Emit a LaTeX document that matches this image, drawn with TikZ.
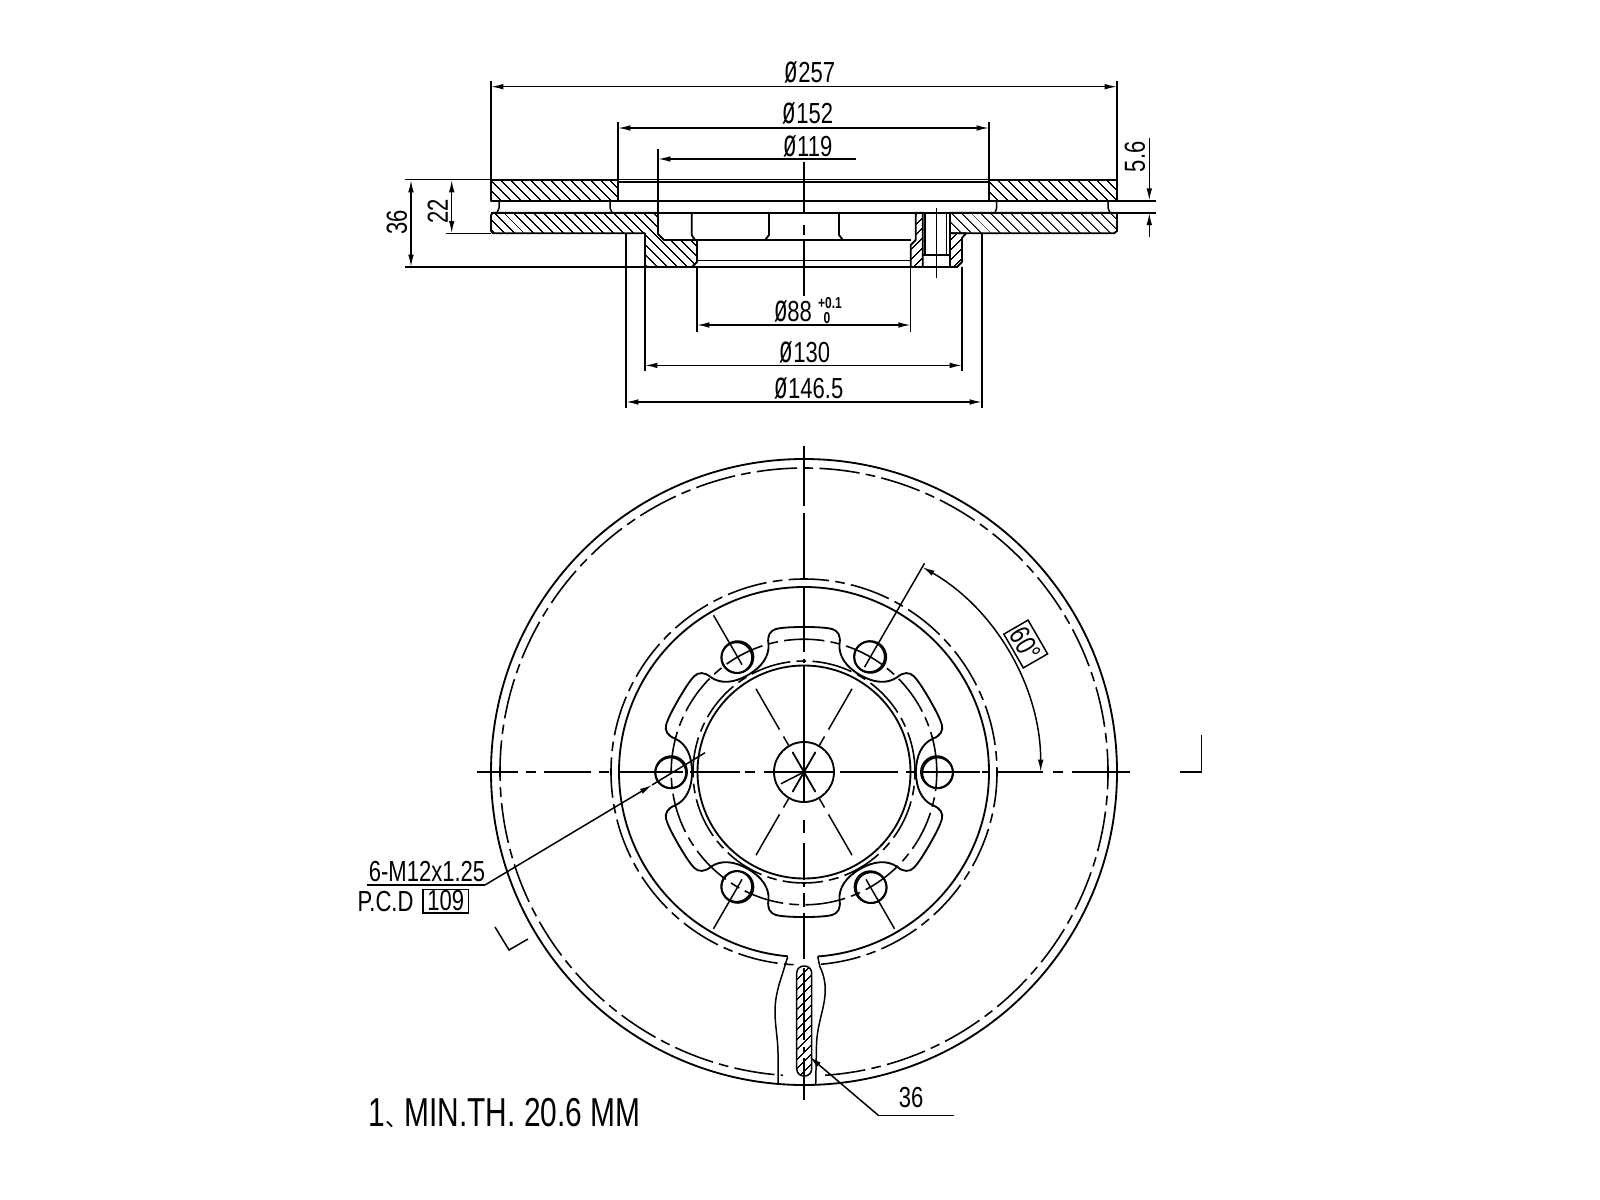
\documentclass[tikz,border=0pt]{standalone}
\usepackage{fontspec}
\setmainfont{Liberation Sans}[FakeStretch=0.76]
\newfontface\notefont{Liberation Sans}[FakeStretch=0.74]
\newfontfamily\cjkfont{Noto Sans CJK SC}
\usetikzlibrary{arrows.meta,patterns.meta,calc}
\newcommand\dia{\scalebox{1}[1.32]{ø}}
\tikzset{
  outline/.style={line width=1.05pt,line join=round},
  thinline/.style={line width=0.85pt},
  dimline/.style={line width=0.85pt,{Latex[length=7pt,width=3.2pt]}-{Latex[length=7pt,width=3.2pt]}},
  leader/.style={line width=0.85pt},
  phantomline/.style={line width=0.9pt,dash pattern=on 23pt off 3.6pt on 5.5pt off 3.6pt},
  hatchleft/.style={outline,pattern={Lines[angle=-45,distance=4pt,line width=0.65pt]}},
  hatchright/.style={outline,pattern={Lines[angle=45,distance=4pt,line width=0.65pt]}},
  dimtext/.style={font=\fontsize{16.5}{19}\selectfont,inner sep=0pt}
}
\begin{document}
\begin{tikzpicture}[x=0.02cm,y=-0.02cm]
        \useasboundingbox (0,0) rectangle (1600,1200);
        \pgfmathsetmacro\hubx{804}
        \pgfmathsetmacro\huby{772}
        \pgfmathsetmacro\rdisc{313}
        \pgfmathsetmacro\rpcd{132.8}
        % section view
        \draw[hatchleft] (491,180) rectangle (618,200.7);
        \draw[hatchleft] (989,180) rectangle (1117,200.7);
        \draw[hatchleft] (493,212.7) -- (658,212.7) -- (658,234) -- (664,240) -- (697,240) -- (697,262) -- (692,267) -- (645,267) -- (645,233.3) -- (493,233.3) -- (491,231) -- (491,215) -- cycle;
        \draw[hatchleft] (950,212.7) -- (1117,212.7) -- (1117,231) -- (1114,233.3) -- (950,233.3) -- cycle;
        \draw[hatchright] (950,233.3) -- (966,233.3) -- (962,238) -- (962,262) -- (957,267) -- (950,267) -- cycle;
        \draw[hatchright] (915.7,212.7) -- (922.7,212.7) -- (922.7,267) -- (910.7,267) -- (910.7,245) -- (915.7,240) -- cycle;
        \draw[outline] (405,179.5) -- (1117,179.5);
        \draw[outline] (618,182.3) -- (989,182.3);
        \draw[outline] (491,200.7) -- (1156,200.7);
        \draw[outline] (491,212.7) -- (1156,212.7);
        \draw[thinline] (446,233.3) -- (491,233.3);
        \draw[line width=1.3pt] (405,267) -- (958,267);
        \draw[outline] (697,240) -- (910.7,240);
        \draw[thinline] (697,260.7) -- (911,260.7);
        \draw[outline] (691.7,212.7) -- (691.7,235) -- (695,240);
        \draw[outline] (769,212.7) -- (769,235) -- (765,240);
        \draw[outline] (839,212.7) -- (839,235) -- (843,240);
        \draw[thinline] (925,212.7) -- (925,255);
        \draw[thinline] (946.7,212.7) -- (946.7,255);
        \draw[thinline] (922.7,255) -- (950,255);
        \draw[thinline] (936.7,208) -- (936.7,278);
        \foreach \ventx/\venty in {499/497,610/612,996.7/995,1108/1110}
            \draw[thinline] (\ventx,200.7) -- (\ventx,208) -- (\venty,212.7);
        % centre line of the section
        \foreach \p/\q in {161.7/213,225/235,240/296}
            \draw[thinline] (\hubx,\p) -- (\hubx,\q);
        % extension lines
        \draw[thinline] (491,80.6) -- (491,180);
        \draw[thinline] (1117,80.6) -- (1117,180);
        \draw[thinline] (618,122) -- (618,180);
        \draw[thinline] (989,122) -- (989,180);
        \draw[thinline] (658,149) -- (658,212.7);
        \draw[thinline] (697,267) -- (697,331.7);
        \draw[thinline] (910.7,267) -- (910.7,331.7);
        \draw[thinline] (645,267) -- (645,371);
        \draw[thinline] (962,267) -- (962,371);
        \draw[thinline] (626,233.3) -- (626,408);
        \draw[thinline] (982,233.3) -- (982,408);
        % dimensions
        \draw[dimline] (491,86.7) -- (1117,86.7);
        \draw[dimline] (618,128) -- (989,128);
        \draw[line width=0.85pt,{Latex[length=7pt,width=3.2pt]}-] (658,159) -- (856,159);
        \draw[dimline] (697,325) -- (910.7,325);
        \draw[dimline] (645,365.4) -- (962,365.4);
        \draw[dimline] (626,402) -- (982,402);
        \draw[dimline] (411,180) -- (411,267);
        \draw[dimline] (451.7,180) -- (451.7,233.3);
        \draw[line width=0.85pt,-{Latex[length=7pt,width=3.2pt]}] (1149.3,138) -- (1149.3,200.7);
        \draw[line width=0.85pt,-{Latex[length=7pt,width=3.2pt]}] (1149.3,236.7) -- (1149.3,212.7);
        \node[dimtext] (d257) at (810,72.7) {\dia257};
        \node[dimtext] (d152) at (808,113) {\dia152};
        \node[dimtext] (d119) at (808,146) {\dia119};
        \node[dimtext] (d88) at (793,311) {\dia88};
        \node[dimtext,font=\fontsize{9}{10}\bfseries\selectfont] (tolup) at (830,303) {+0.1};
        \node[dimtext,font=\fontsize{9}{10}\bfseries\selectfont] (tollow) at (827,318) {0};
        \node[dimtext] (d130) at (805,352) {\dia130};
        \node[dimtext] (d146) at (809,388) {\dia146.5};
        \node[dimtext,rotate=90] (d36) at (397,222) {36};
        \node[dimtext,rotate=90] (d22) at (437.7,211) {22};
        \node[dimtext,rotate=90] (d56) at (1135,156.7) {5.6};
        % front view
        \begin{scope}[shift={(\hubx,\huby)},y=0.02cm]
            \draw[outline] (0,0) circle (\rdisc);
            \draw[phantomline] (-86:304) arc (-86:266:304);
            \draw[outline] (-85.8:185) arc (-85.8:265:185);
            \draw[phantomline] (-85:193) arc (-85:267:193);
            \draw[outline] (0,0) circle (106.5);
            \draw[phantomline] (0,0) circle (111);
            \draw[phantomline] (0,0) circle (\rpcd);
            \draw[outline] (0,0) circle (30);
            % flange outline, one half lobe at a time
            \foreach \a in {0,60,...,300}
                \foreach \s in {1,-1}
                    \draw[outline,rotate=\a,xscale=\s] (0,145) .. controls (12,145) and (22,144.5) .. (28,143) .. controls (34,141.5) and (37,136) .. (35.5,128) .. controls (34.5,116) and (42,105) .. (56,97);
            % threaded holes
            \foreach \a/\dx/\dy in {0/0.8/-0.8,60/-0.9/0.2,120/-0.8/-0.6,180/-0.5/-0.8,240/-0.9/0.5,300/0.8/-0.6} {
                \draw[thinline] (\a:\rpcd) circle (16);
                \draw[line width=1.15pt] ($(\a:\rpcd)+(\dx,\dy)$) circle (15.4);
            }
            % radial centre marks
            \foreach \a in {60,120,240,300} {
                \draw[thinline] (\a:49) -- (\a:96);
                \draw[thinline] (\a:31) -- (\a:41);
                \draw[thinline] (\a:23) -- (\a+180:23);
            }
            \foreach \a in {120,240,300}
                \draw[thinline] (\a:124) -- (\a:181);
            \draw[thinline] (0,0) -- (207:26);
            \draw[thinline] (60:121) -- (60:241);
            % angle
            \draw[line width=0.85pt,{Latex[length=7pt,width=3.2pt]}-{Latex[length=7pt,width=3.2pt]}] (0:236.7) arc (0:60:236.7);
        \end{scope}
        \node[draw,thinline,dimtext,rotate=-60,minimum width=0.78cm,minimum height=0.56cm] (a60) at (1025.7,644) {60°};
        % centre lines of the front view
        \foreach \p/\q in {476.7/517.7,525.7/535.7,544/591,599/609,618/683,690/697,697/740,745/755,764/833,840/898,906/915,923/980,982/990,997/1043,1053/1063,1072/1130}
            \draw[thinline] (\p,\huby) -- (\q,\huby);
        \foreach \p/\q in {445.7/505.7,513.3/579,586.7/652,659/663,666/803,820/833,843/880,883/887,893/907,913/959,968/1040,1047/1052,1058/1100}
            \draw[thinline] (\hubx,\p) -- (\hubx,\q);
        % section marks
        \draw[thinline] (1180,772) -- (1201.7,772) -- (1201.7,735);
        \draw[thinline] (495,927) -- (509,950) -- (528,939);
        % cut through the disc
        \draw[thinline] (787.7,956.7) -- (782.7,973) .. controls (777,990) and (775,1000) .. (775,1012) .. controls (775,1025) and (778,1040) .. (778,1053) -- (778,1083);
        \draw[thinline] (817.7,956.7) -- (820,967) .. controls (824,975) and (826,985) .. (825,995) .. controls (824,1010) and (817,1025) .. (816.5,1045) -- (815.7,1085);
        \draw[hatchright,rounded corners=4pt,line width=0.85pt] (796.7,966) rectangle (811.7,1076);
        % leaders
        \coordinate (holeleft) at (652,785);
        \coordinate (leaderknee) at (485,885);
        \node[dimtext,anchor=center] (thread) at (427,871.7) {6-M12x1.25};
        \node[dimtext] (pcdtext) at (385.5,902) {P.C.D};
        \node[draw,thinline,dimtext,minimum width=0.91cm,minimum height=0.47cm] (pcdbox) at (445.8,901) {109};
        \draw[leader] (366.5,885) -- (leaderknee);
        \draw[leader,-{Latex[length=7pt,width=3.2pt]}] (leaderknee) -- (holeleft);
        \draw[leader] (holeleft) -- (705,752.7);
        \node[dimtext] (depth) at (911,1098) {36};
        \coordinate (cutpoint) at (809.4,1056.7);
        \coordinate (depthknee) at (878.8,1115.7);
        \draw[leader,{Latex[length=7pt,width=3.2pt]}-] (cutpoint) -- (depthknee);
        \draw[leader] (depthknee) -- (954.3,1115.7);
        \node[font=\fontsize{23}{27}\notefont,inner sep=0pt] (note) at (504.5,1113) {1\makebox[11pt][l]{\cjkfont\fontsize{13}{13}\selectfont 、}MIN.TH. 20.6 MM};
\end{tikzpicture}
\end{document}
